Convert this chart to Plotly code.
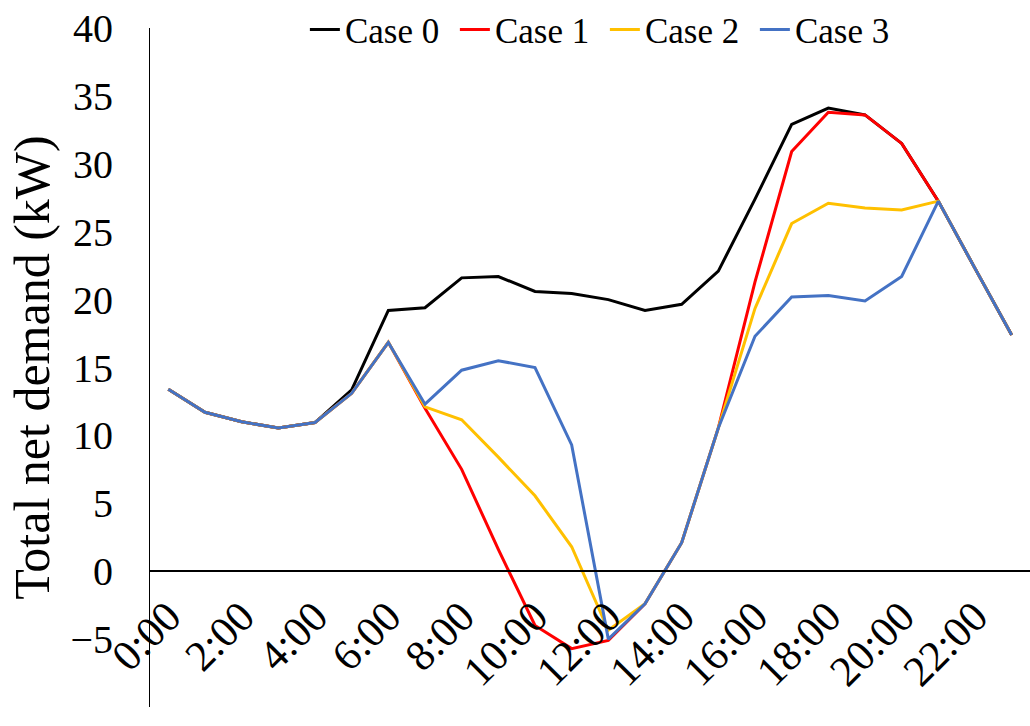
import plotly.graph_objects as go

hours = [f"{h}:00" for h in range(24)]
tick_labels = hours[::2]

case0 = [13.4, 11.7, 11.0, 10.55, 10.95, 13.35, 19.2, 19.4, 21.6, 21.7, 20.6, 20.45,
         20.0, 19.2, 19.65, 22.1, 27.4, 32.9, 34.1, 33.6, 31.5, 27.25, 22.3, 17.4]
case1 = [13.4, 11.7, 11.0, 10.55, 10.95, 13.1, 16.85, 12.0, 7.5, 1.6, -4.0, -5.7,
         -5.1, -2.4, 2.1, 10.55, 21.3, 30.9, 33.8, 33.6, 31.5, 27.25, 22.3, 17.4]
case2 = [13.4, 11.7, 11.0, 10.55, 10.95, 13.1, 16.85, 12.1, 11.15, 8.4, 5.55, 1.8,
         -4.35, -2.4, 2.1, 10.55, 19.35, 25.6, 27.1, 26.75, 26.6, 27.25, 22.3, 17.4]
case3 = [13.4, 11.7, 11.0, 10.55, 10.95, 13.1, 16.85, 12.3, 14.8, 15.5, 15.0, 9.3,
         -5.0, -2.4, 2.1, 10.55, 17.3, 20.2, 20.3, 19.9, 21.7, 27.25, 22.3, 17.4]

series = [
    ("Case 0", case0, "#000000"),
    ("Case 1", case1, "#FF0000"),
    ("Case 2", case2, "#FFC000"),
    ("Case 3", case3, "#4472C4"),
]

FONT = "Liberation Serif"

fig = go.Figure()
for name, vals, color in series:
    fig.add_trace(go.Scatter(x=hours, y=vals, mode="lines", name=name,
                             line=dict(color=color, width=3)))

fig.update_layout(
    width=1030, height=726,
    margin=dict(l=150, r=0, t=24, b=19),
    paper_bgcolor="white", plot_bgcolor="white",
    font=dict(family=FONT, color="black"),
    showlegend=True,
    legend=dict(orientation="h", x=0.176, xanchor="left", y=1.041, yanchor="top",
                font=dict(family=FONT, size=35, color="black"),
                bgcolor="rgba(0,0,0,0)", itemwidth=30, traceorder="normal",
                entrywidth=105, entrywidthmode="pixels"),
    xaxis=dict(type="category", categoryorder="array", categoryarray=hours,
               range=[-0.5, 23.5], anchor="free", position=0.2,
               showline=True, linecolor="black", linewidth=1.5,
               showgrid=False, zeroline=False, ticks="",
               tickmode="array", tickvals=tick_labels, ticktext=tick_labels,
               tickangle=-45, tickfont=dict(family=FONT, size=43, color="black"),
               ticklabelstandoff=2, automargin=False),
    yaxis=dict(range=[-10, 40], dtick=5, showline=True, linecolor="black", linewidth=1,
               showgrid=False, zeroline=False, ticks="",
               tickfont=dict(family=FONT, size=40, color="black"),
               ticklabelstandoff=28, automargin=False,
               title=dict(text="Total net demand (kW)", standoff=4,
                          font=dict(family=FONT, size=50, color="black"))),
)

fig.write_html("out.html")
